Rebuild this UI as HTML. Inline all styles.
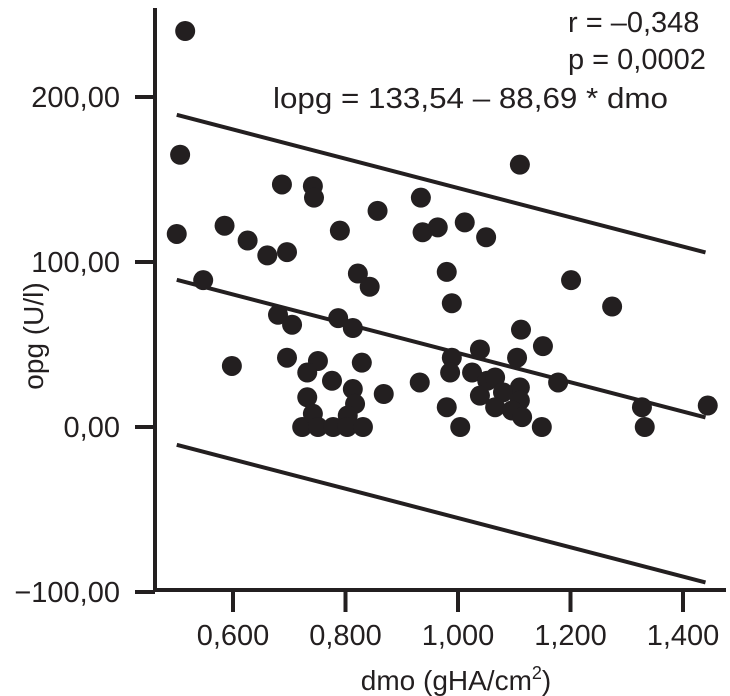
<!DOCTYPE html>
<html><head><meta charset="utf-8"><style>
body{margin:0;background:#fff}
svg{display:block;font-family:"Liberation Sans",sans-serif;fill:#231f20}
</style></head><body>
<svg id="c" width="730" height="696"></svg>
<script>
const xTicks=[0.6,0.8,1.0,1.2,1.4];
const xTickLabels=["0,600","0,800","1,000","1,200","1,400"];
const yTicks=[-100,0,100,200];
const yTickLabels=["−100,00","0,00","100,00","200,00"];
const dmo=[0.515,0.506,0.500,0.547,0.598,0.585,0.626,0.661,0.687,0.696,0.680,0.705,0.696,0.742,0.744,0.751,0.732,0.732,0.723,0.742,0.751,0.776,0.790,0.787,0.813,0.822,0.843,0.857,0.829,0.813,0.817,0.804,0.778,0.803,0.831,0.868,0.932,0.934,0.937,0.964,0.980,1.012,1.050,0.989,1.274,1.112,1.151,1.039,1.105,0.989,0.986,1.025,1.052,1.066,1.110,1.178,1.039,1.080,1.110,1.066,1.096,1.114,0.980,1.004,1.149,1.327,1.332,1.444,1.110,1.201];
const opg=[240,165,117,89,37,122,113,104,147,106,68,62,42,146,139,40,33,18,0,8,0,28,119,66,60,93,85,131,39,23,14,7,0,0,0,20,27,139,118,121,94,124,115,75,73,59,49,47,42,42,33,33,28,30,24,27,19,21,16,12,10,6,12,0,0,12,0,13,159,89];
const intercept=133.54, slope=-88.69, band=100;
const lineX=[0.5,1.44];
const X=v=>233+(v-0.6)*562.5;
const Y=v=>427-v*1.65;
const svg=document.getElementById('c');
const NS='http://www.w3.org/2000/svg';
function mk(t,a){const e=document.createElementNS(NS,t);for(const k in a)e.setAttribute(k,a[k]);svg.appendChild(e);return e;}
let e;
e=mk('line',{x1:155,y1:8,x2:155,y2:592,stroke:'#231f20','stroke-width':4});


e=mk('line',{x1:153,y1:590,x2:726,y2:590,stroke:'#231f20','stroke-width':4});


xTicks.forEach((v,i)=>{
 e=mk('line',{x1:X(v),y1:590,x2:X(v),y2:612,stroke:'#231f20','stroke-width':4});
 
 
 e=mk('text',{x:X(v),y:645,'text-anchor':'middle','font-size':29});
 e.textContent=xTickLabels[i];
 
 
});
yTicks.forEach((v,i)=>{
 e=mk('line',{x1:135,y1:Y(v),x2:155,y2:Y(v),stroke:'#231f20','stroke-width':4});
 
 
 e=mk('text',{x:120,y:Y(v)+10,'text-anchor':'end','font-size':29});
 e.textContent=yTickLabels[i];
 
 
});
[band,0,-band].forEach((o,i)=>{
 e=mk('line',{x1:X(lineX[0]),y1:Y(intercept+slope*lineX[0]+o),x2:X(lineX[1]),y2:Y(intercept+slope*lineX[1]+o),stroke:'#231f20','stroke-width':4});
 
 
});
dmo.forEach((v,i)=>{
 e=mk('circle',{cx:X(v),cy:Y(opg[i]),r:10});
 
 
});
e=mk('text',{x:568,y:32,'font-size':29});e.textContent='r = –0,348';


e=mk('text',{x:568,y:69,'font-size':29});e.textContent='p = 0,0002';


e=mk('text',{x:273,y:108,'font-size':29,textLength:395,lengthAdjust:'spacingAndGlyphs'});e.textContent='lopg = 133,54 – 88,69 * dmo';


e=mk('text',{x:456,y:690,'text-anchor':'middle','font-size':28});
e.innerHTML='dmo (gHA/cm<tspan font-size="18" dy="-11">2</tspan><tspan dy="11">)</tspan>';


e=mk('text',{x:0,y:0,'text-anchor':'middle','font-size':28,transform:'translate(43,336) rotate(-90)'});
e.textContent='opg (U/l)';


</script>
</body></html>
